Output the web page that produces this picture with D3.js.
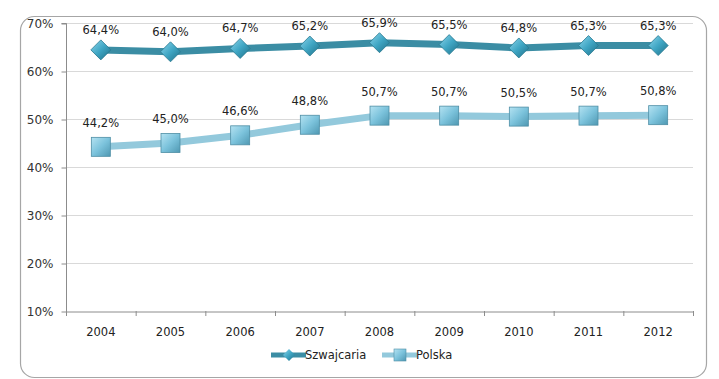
<!DOCTYPE html>
<html><head><meta charset="utf-8">
<script src="https://cdn.jsdelivr.net/npm/d3@7"></script>
<style>body{margin:0;background:#fff;}svg{display:block;font-family:"DejaVu Sans",Verdana,sans-serif;}</style>
</head><body>
<svg id="c" width="719" height="379"></svg>
<script>
const years = ["2004","2005","2006","2007","2008","2009","2010","2011","2012"];
const szwajcaria = [64.4,64.0,64.7,65.2,65.9,65.5,64.8,65.3,65.3];
const polska = [44.2,45.0,46.6,48.8,50.7,50.7,50.5,50.7,50.8];
const yTicks = [10,20,30,40,50,60,70];
const seriesNames = ["Szwajcaria","Polska"];

const svg = d3.select("#c");
const defs = svg.append("defs");
const g1 = defs.append("linearGradient").attr("id","gd").attr("x1","0").attr("y1","0").attr("x2","1").attr("y2","1");
g1.append("stop").attr("offset","0").attr("stop-color","#8fd6ec");
g1.append("stop").attr("offset","0.5").attr("stop-color","#3fa6c4");
g1.append("stop").attr("offset","1").attr("stop-color","#1f6f87");
const g2 = defs.append("linearGradient").attr("id","gs").attr("x1","0").attr("y1","0").attr("x2","1").attr("y2","1");
g2.append("stop").attr("offset","0").attr("stop-color","#b5e3f2");
g2.append("stop").attr("offset","0.5").attr("stop-color","#7cc3dc");
g2.append("stop").attr("offset","1").attr("stop-color","#4f98b2");

svg.append("rect").attr("x",20.5).attr("y",16.5).attr("width",686).attr("height",361)
  .attr("rx",14).attr("fill","#fff").attr("stroke","#a6a6a6").attr("stroke-width",1.2);

const L=66, R=693, T=23, B=311;
const x = d3.scaleBand().domain(years).range([L,R]);
const y = d3.scaleLinear().domain([10,70]).range([B,T]);

// gridlines
svg.append("g").selectAll("line").data(yTicks.filter(d=>d>10)).join("line")
  .attr("x1",L).attr("x2",R).attr("y1",d=>y(d)+0.5).attr("y2",d=>y(d)+0.5)
  .attr("stroke","#d9d9d9").attr("stroke-width",1);

// y axis
const ya = svg.append("g").attr("transform",`translate(${L+0.5},0.5)`)
  .call(d3.axisLeft(y).tickValues(yTicks).tickFormat(d=>d+"%").tickSize(5).tickPadding(8));
ya.select(".domain").attr("stroke","#8c8c8c").attr("d",`M-5,${T}H0V${B}`);
ya.selectAll(".tick line").attr("stroke","#8c8c8c");
ya.selectAll("text").attr("font-size",12).attr("fill","#333").attr("font-family","DejaVu Sans");

// x axis
const xa = svg.append("g").attr("transform",`translate(0,${B+0.5})`)
  .call(d3.axisBottom(x).tickSize(0).tickPadding(16));
xa.select(".domain").attr("stroke","#8c8c8c");
xa.selectAll("text").attr("font-size",11.5).attr("fill","#222").attr("font-family","DejaVu Sans");
svg.append("g").selectAll("line").data(d3.range(years.length+1)).join("line")
  .attr("x1",i=>L+i*x.step()+0.5).attr("x2",i=>L+i*x.step()+0.5)
  .attr("y1",B).attr("y2",B+5).attr("stroke","#8c8c8c");

const cx = d=>x(d)+x.bandwidth()/2;
const line = d3.line().x((d,i)=>cx(years[i])).y(d=>y(d));

// Polska
svg.append("path").datum(polska).attr("d",line).attr("fill","none")
  .attr("stroke","#93c9dc").attr("stroke-width",7);
svg.append("g").selectAll("rect").data(polska).join("rect")
  .attr("x",(d,i)=>cx(years[i])-9.5).attr("y",d=>y(d)-9.5).attr("width",19).attr("height",19)
  .attr("fill","url(#gs)").attr("stroke","#4e8ea5").attr("stroke-width",0.8);
svg.append("g").selectAll("text").data(polska).join("text")
  .attr("x",(d,i)=>cx(years[i])).attr("y",d=>y(d)-20)
  .attr("text-anchor","middle").attr("font-size",11.5).attr("fill","#222")
  .text(d=>d.toFixed(1).replace(".",",")+"%");

// Szwajcaria
svg.append("path").datum(szwajcaria).attr("d",line).attr("fill","none")
  .attr("stroke","#3b8da4").attr("stroke-width",7);
const diamond = "M0,-10L10,0L0,10L-10,0Z";
svg.append("g").selectAll("path").data(szwajcaria).join("path")
  .attr("transform",(d,i)=>`translate(${cx(years[i])},${y(d)})`).attr("d",diamond)
  .attr("fill","url(#gd)").attr("stroke","#2a7a90").attr("stroke-width",0.8);
svg.append("g").selectAll("text").data(szwajcaria).join("text")
  .attr("x",(d,i)=>cx(years[i])).attr("y",d=>y(d)-16)
  .attr("text-anchor","middle").attr("font-size",11.5).attr("fill","#222")
  .text(d=>d.toFixed(1).replace(".",",")+"%");

// legend
const lg = svg.append("g");
const leg = [{n:seriesNames[0],x:271,c:"#3b8da4",m:"d"},{n:seriesNames[1],x:382,c:"#93c9dc",m:"s"}];
leg.forEach(o=>{
  const ly=355;
  lg.append("line").attr("x1",o.x).attr("x2",o.x+35).attr("y1",ly).attr("y2",ly).attr("stroke",o.c).attr("stroke-width",5);
  if(o.m==="d") lg.append("path").attr("transform",`translate(${o.x+18},${ly})`).attr("d","M0,-6L6,0L0,6L-6,0Z").attr("fill","url(#gd)");
  else lg.append("rect").attr("x",o.x+12).attr("y",ly-6).attr("width",12).attr("height",12).attr("fill","url(#gs)").attr("stroke","#4e8ea5").attr("stroke-width",0.6);
  lg.append("text").attr("x",o.x+34).attr("y",ly+4).attr("font-size",11.5).attr("fill","#222").text(o.n);
});
</script>
</body></html>
